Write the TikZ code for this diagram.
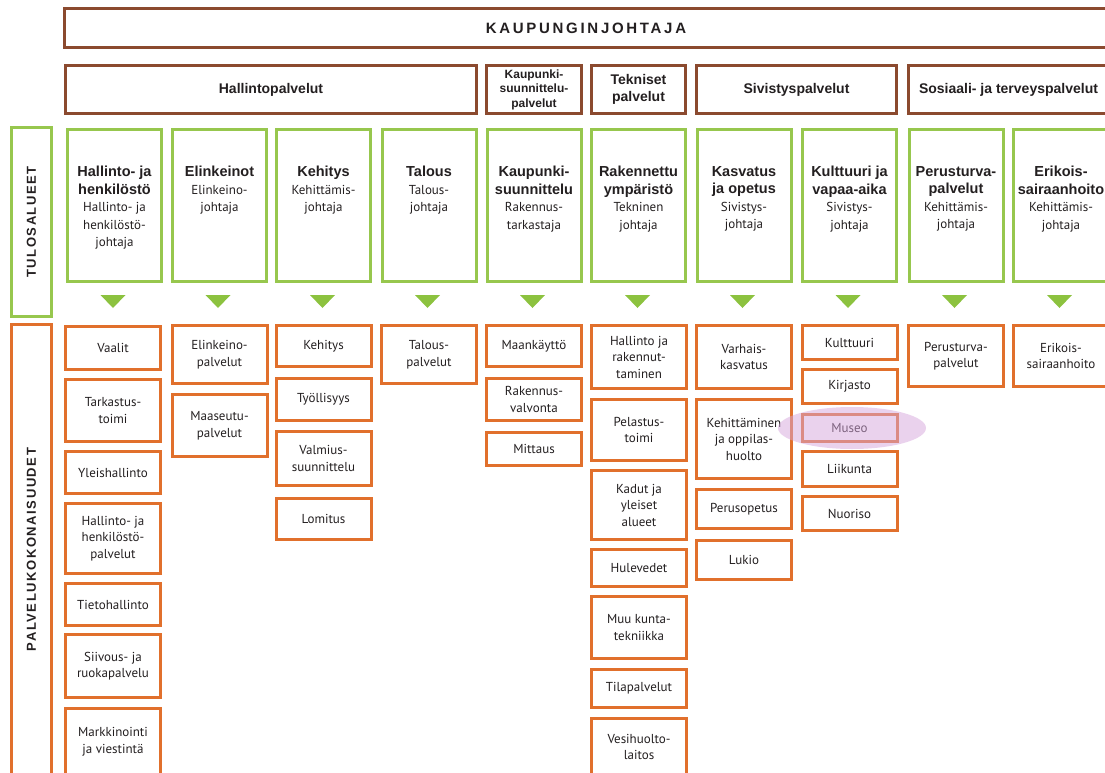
\documentclass[tikz,border=0pt]{standalone}
\usepackage{fontspec}
\setmainfont{PT Sans}
\newfontfamily\headfont{Liberation Sans}
\newfontfamily\spacedfont[LetterSpace=12]{Liberation Sans}
\newfontfamily\titlefont[LetterSpace=18]{Liberation Sans}
\usepackage{tikz}
\usepackage{xcolor}
\usetikzlibrary{shapes.geometric, positioning}
\definecolor{KJ_Brown}{HTML}{8B4A2F}
\definecolor{Tulos_Green}{HTML}{97C74E}
\definecolor{Arrow_Green}{HTML}{8CC23F}
\definecolor{Palvelu_Orange}{HTML}{E1702C}
\definecolor{Museo_Pink}{HTML}{D6A6DC}
\definecolor{Ink}{HTML}{231F20}
\newcommand{\hd}[1]{{\headfont\bfseries\fontsize{14.5}{17.5}\selectfont #1}}

\begin{document}
\begin{tikzpicture}[x=1pt, y=-1pt,
    hbox/.style={draw=KJ_Brown, line width=2.6pt, inner sep=0pt, align=center, text=Ink,
        font=\headfont\bfseries\fontsize{14}{16.5}\selectfont},
    gbox/.style={draw=Tulos_Green, line width=3pt, minimum width=94pt, minimum height=152pt},
    gtext/.style={anchor=north, inner sep=0pt, align=center, text=Ink,
        font=\fontsize{13}{17.5}\selectfont},
    obox/.style={draw=Palvelu_Orange, line width=3pt, minimum width=95pt, inner sep=0pt,
        align=center, text=Ink, font=\fontsize{13}{16.5}\selectfont},
    sidelabel/.style={rotate=90, text=Ink, font=\spacedfont\bfseries\fontsize{13}{13}\selectfont}
]

        \useasboundingbox (0,0) rectangle (1105,773);

        % --- 1. Kaupunginjohtaja and palvelualueet (top rows) ---
        \node[hbox, minimum width=1043pt, minimum height=39pt,
              font=\titlefont\bfseries\fontsize{15}{15}\selectfont] (kj) at (586,28) {KAUPUNGINJOHTAJA};

        \node[hbox, minimum width=411pt, minimum height=48pt] (hallpa) at (271,89.5) {Hallintopalvelut};
        \node[hbox, minimum width=95pt, minimum height=48pt,
              font=\headfont\bfseries\fontsize{12}{14.5}\selectfont] (kaupa) at (534,89.5) {Kaupunki-\\suunnittelu-\\palvelut};
        \node[hbox, minimum width=94pt, minimum height=48pt] (tekpa) at (638.5,89.5) {Tekniset\\palvelut};
        \node[hbox, minimum width=200pt, minimum height=48pt] (sivpa) at (796.5,89.5) {Sivistyspalvelut};
        \node[hbox, minimum width=200pt, minimum height=48pt] (sospa) at (1008.5,89.5) {Sosiaali- ja terveyspalvelut};

        % --- 2. Tulosalueet (green boxes) ---
        \node[draw=Tulos_Green, line width=3pt, minimum width=40pt, minimum height=189pt] (tulos) at (31.5,222) {};
        \node[sidelabel] (tulosT) at (tulos.center) {TULOSALUEET};

        \node[gbox] (g1) at (114.5,205.5) {};
        \node[gbox] (g2) at (219.5,205.5) {};
        \node[gbox] (g3) at (323.5,205.5) {};
        \node[gbox] (g4) at (429,205.5) {};
        \node[gbox] (g5) at (534,205.5) {};
        \node[gbox] (g6) at (638.5,205.5) {};
        \node[gbox] (g7) at (744,205.5) {};
        \node[gbox] (g8) at (849.5,205.5) {};
        \node[gbox] (g9) at (956,205.5) {};
        \node[gbox, minimum width=96pt] (g10) at (1061,205.5) {};

        \node[gtext] (g1T) at (114.5,166) {\hd{Hallinto- ja}\\\hd{henkilöstö}\\Hallinto- ja\\henkilöstö-\\johtaja};
        \node[gtext] (g2T) at (219.5,166) {\hd{Elinkeinot}\\Elinkeino-\\johtaja};
        \node[gtext] (g3T) at (323.5,166) {\hd{Kehitys}\\Kehittämis-\\johtaja};
        \node[gtext] (g4T) at (429,166) {\hd{Talous}\\Talous-\\johtaja};
        \node[gtext] (g5T) at (534,166) {\hd{Kaupunki-}\\\hd{suunnittelu}\\Rakennus-\\tarkastaja};
        \node[gtext] (g6T) at (638.5,166) {\hd{Rakennettu}\\\hd{ympäristö}\\Tekninen\\johtaja};
        \node[gtext] (g7T) at (744,166) {\hd{Kasvatus}\\\hd{ja opetus}\\Sivistys-\\johtaja};
        \node[gtext] (g8T) at (849.5,166) {\hd{Kulttuuri ja}\\\hd{vapaa-aika}\\Sivistys-\\johtaja};
        \node[gtext] (g9T) at (956,166) {\hd{Perusturva-}\\\hd{palvelut}\\Kehittämis-\\johtaja};
        \node[gtext] (g10T) at (1061,166) {\hd{Erikois-}\\\hd{sairaanhoito}\\Kehittämis-\\johtaja};

        % Triangles
        \foreach \cx in {113,218,322.5,427.5,532.5,637.5,742.5,848,954.5,1059.5}
            \fill[Arrow_Green] (\cx-12.5,295) -- (\cx+12.5,295) -- (\cx,308) -- cycle;

        % --- 3. Palvelukokonaisuudet (orange boxes) ---
        \node[draw=Palvelu_Orange, line width=3pt, minimum width=40pt, minimum height=450pt] (palv) at (31.5,549.5) {};
        \node[sidelabel] (palvT) at (palv.center) {PALVELUKOKONAISUUDET};

        % Hallinto ja henkilöstö
        \node[obox, minimum height=43pt] (vaalit) at (113,348) {Vaalit};
        \node[obox, minimum height=62pt] (tarkastus) at (113,410.5) {Tarkastus-\\toimi};
        \node[obox, minimum height=42pt] (yleish) at (113,472.5) {Yleishallinto};
        \node[obox, minimum height=70pt] (hhpalv) at (113,538.5) {Hallinto- ja\\henkilöstö-\\palvelut};
        \node[obox, minimum height=42pt] (tieto) at (113,604.5) {Tietohallinto};
        \node[obox, minimum height=63pt] (siivous) at (113,666) {Siivous- ja\\ruokapalvelu};
        \node[obox, minimum height=67pt] (markk) at (113,742) {Markkinointi\\ja viestintä};

        % Elinkeinot
        \node[obox, minimum height=58pt] (elinpalv) at (219.5,354.5) {Elinkeino-\\palvelut};
        \node[obox, minimum height=62pt] (maaseutu) at (219.5,425.5) {Maaseutu-\\palvelut};

        % Kehitys
        \node[obox, minimum height=41pt] (kehitys) at (323.5,346) {Kehitys};
        \node[obox, minimum height=42pt] (tyoll) at (323.5,399.5) {Työllisyys};
        \node[obox, minimum height=54pt] (valmius) at (323.5,458.5) {Valmius-\\suunnittelu};
        \node[obox, minimum height=41pt] (lomitus) at (323.5,519) {Lomitus};

        % Talous
        \node[obox, minimum height=58pt] (talpalv) at (429,354.5) {Talous-\\palvelut};

        % Kaupunkisuunnittelu
        \node[obox, minimum height=41pt] (maank) at (534,346) {Maankäyttö};
        \node[obox, minimum height=42pt] (rakval) at (534,399.5) {Rakennus-\\valvonta};
        \node[obox, minimum height=33pt] (mittaus) at (534,449) {Mittaus};

        % Rakennettu ympäristö
        \node[obox, minimum height=63pt] (halrak) at (639,357) {Hallinto ja\\rakennut-\\taminen};
        \node[obox, minimum height=61pt] (pelastus) at (639,430) {Pelastus-\\toimi};
        \node[obox, minimum height=69pt] (kadut) at (639,505) {Kadut ja\\yleiset\\alueet};
        \node[obox, minimum height=37pt] (hulev) at (639,568) {Hulevedet};
        \node[obox, minimum height=62pt] (muukunta) at (639,627.5) {Muu kunta-\\tekniikka};
        \node[obox, minimum height=38pt] (tilap) at (639,688.5) {Tilapalvelut};
        \node[obox, minimum height=57pt] (vesih) at (639,747) {Vesihuolto-\\laitos};

        % Kasvatus ja opetus
        \node[obox, minimum height=63pt] (varhais) at (744,357) {Varhais-\\kasvatus};
        \node[obox, minimum height=79pt] (kehitt) at (744,439) {Kehittäminen\\ja oppilas-\\huolto};
        \node[obox, minimum height=39pt] (perusop) at (744,509) {Perusopetus};
        \node[obox, minimum height=39pt] (lukio) at (744,560) {Lukio};

        % Kulttuuri ja vapaa-aika
        \node[obox, minimum height=34pt] (kulttuuri) at (849.5,342.5) {Kulttuuri};
        \node[obox, minimum height=34pt] (kirjasto) at (849.5,386.5) {Kirjasto};
        \node[obox, minimum height=27pt] (museo) at (849.5,428) {Museo};
        \node[obox, minimum height=35pt] (liikunta) at (849.5,469) {Liikunta};
        \node[obox, minimum height=34pt] (nuoriso) at (849.5,513.5) {Nuoriso};

        % Perusturva and erikoissairaanhoito
        \node[obox, minimum height=61pt] (perust) at (956,356) {Perusturva-\\palvelut};
        \node[obox, minimum height=61pt, minimum width=96pt] (erikois) at (1061,356) {Erikois-\\sairaanhoito};

        % Highlight
        \fill[Museo_Pink, opacity=0.5] (852,428) ellipse [x radius=74pt, y radius=21pt];

\end{tikzpicture}
\end{document}
